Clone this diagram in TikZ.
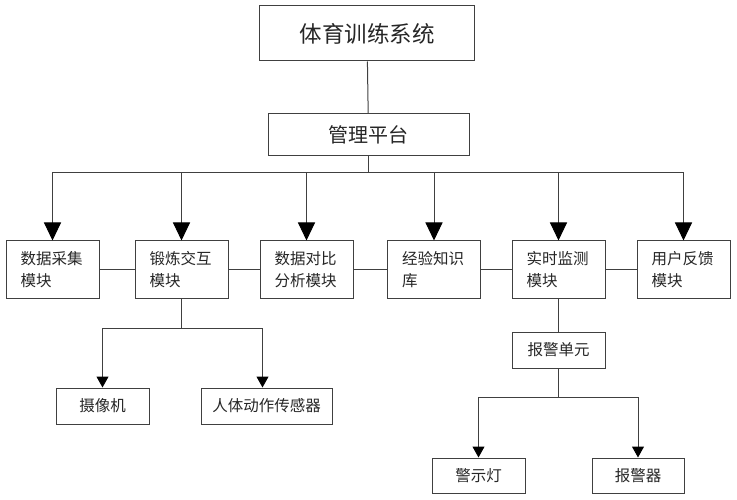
\documentclass[tikz,border=0pt]{standalone}
\usepackage{fontspec}
\setmainfont{Noto Sans CJK SC}
\usetikzlibrary{arrows.meta,positioning}

\begin{document}
\begin{tikzpicture}[x=1pt,y=-1pt,
	line width=1pt,
	box/.style={draw=black!75, fill=white, text=black!85, inner sep=0pt, minimum height=36pt},
	modbox/.style={box, minimum width=93pt, minimum height=57pt, text width=64pt, align=left,
		font=\fontsize{15.5}{22}\selectfont},
	leaf/.style={box, minimum width=93pt, font=\fontsize{15.5}{18}\selectfont},
	bigtip/.style={-{Triangle[width=17pt,length=18pt,color=black]}},
	smalltip/.style={-{Triangle[width=12pt,length=11pt,color=black]}}]
\useasboundingbox (0,0) rectangle (737,500);

\path (367,33.5) node[box, minimum width=215pt, minimum height=55pt,
	font=\fontsize{22.5}{26}\selectfont] (sys) {体育训练系统};
\path (368.5,135) node[box, minimum width=201pt, minimum height=42pt,
	font=\fontsize{20}{24}\selectfont] (plat) {管理平台};
\draw[draw=black!75] (sys) -- (plat);

% module row
\foreach \i/\x/\t in {1/52.5/{数据采集\\模块}, 2/181.5/{锻炼交互\\模块}, 3/306.5/{数据对比\\分析模块},
	4/434/{经验知识\\库}, 5/558.5/{实时监测\\模块}, 6/683.5/{用户反馈\\模块}}
{
	\path (\x,269.5) node[modbox] (m\i) {\t};
	\draw[draw=black!75, bigtip] (plat.south) -- ++(0,16) -| (m\i.north);
}
\foreach \i [evaluate=\i as \j using int(\i+1)] in {1,...,5}
{
	\draw[draw=black!75] (m\i.east) -- (m\j.west);
}

% under the interaction module
\path (102.5,406) node[leaf] (cam) {摄像机};
\path (266.5,406) node[leaf, minimum width=131pt] (sens) {人体动作传感器};
\draw[draw=black!75, smalltip] (m2.south) -- ++(0,30) -| (cam.north);
\draw[draw=black!75, smalltip] (m2.south) -- ++(0,30) -| ([xshift=-4pt]sens.north);

% under the monitoring module
\path (558.5,350) node[leaf] (alarm) {报警单元};
\draw[draw=black!75] (m5) -- (alarm);
\path (478.5,475.5) node[leaf, minimum height=35pt] (lamp) {警示灯};
\path (638,475.5) node[leaf, minimum width=92pt, minimum height=35pt] (horn) {报警器};
\draw[draw=black!75, smalltip] (alarm.south) -- ++(0,29) -| (lamp.north);
\draw[draw=black!75, smalltip] (alarm.south) -- ++(0,29) -| (horn.north);

\end{tikzpicture}
\end{document}
